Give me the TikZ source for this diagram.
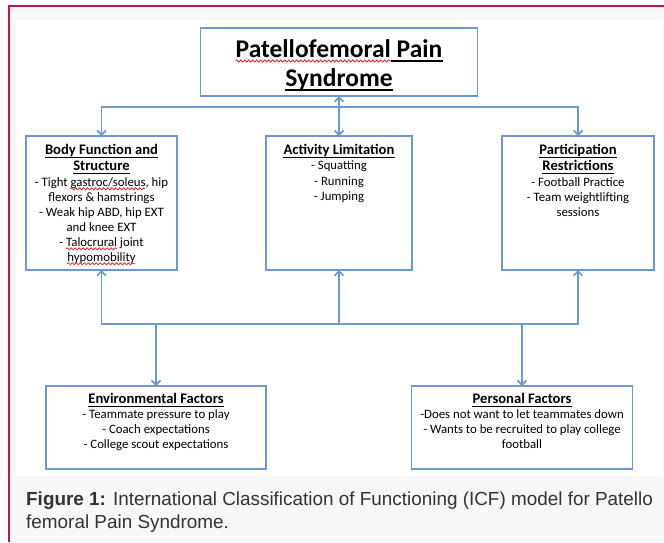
\documentclass[tikz,border=0pt]{standalone}
\usepackage{fontspec}
\setmainfont{Carlito}
\newfontfamily\capfont{Liberation Sans}
\usetikzlibrary{arrows.meta,decorations.pathmorphing}
\definecolor{bxblue}{HTML}{6A98D2}
\definecolor{framered}{HTML}{B8193F}
\definecolor{bgg}{HTML}{F8F7F8}
\definecolor{capt}{HTML}{333333}
\definecolor{wavered}{HTML}{E02828}
\newlength\offA \newlength\lenA
\newlength\offB \newlength\lenB
\newlength\lenC \newlength\lenD
\begin{document}
\settowidth\lenA{\fontsize{25.5}{30}\selectfont\bfseries Patellofemoral}%
\settowidth\offB{\fontsize{12.8}{15}\selectfont - Tight }%
\settowidth\lenB{\fontsize{12.8}{15}\selectfont gastroc/soleus}%
\settowidth\offA{\fontsize{12.8}{15}\selectfont - }%
\settowidth\lenC{\fontsize{12.8}{15}\selectfont Talocrural}%
\settowidth\lenD{\fontsize{12.8}{15}\selectfont hypomobility}%
\begin{tikzpicture}[x=1pt,y=-1pt,
  box/.style={draw=bxblue,line width=1.6pt,fill=white,inner sep=0pt,outer sep=0pt},
  hd/.style={inner sep=0pt,anchor=base,font={\fontsize{14.6}{16}\selectfont\bfseries}},
  itm/.style={inner sep=0pt,anchor=base,font={\fontsize{12.8}{15}\selectfont}},
  ttl/.style={inner sep=0pt,anchor=base,font={\fontsize{25.5}{30}\selectfont\bfseries}},
  captxt/.style={inner sep=0pt,anchor=base west,text=capt,font={\capfont\fontsize{18.9}{23}\selectfont}},
  ln/.style={draw=bxblue,line width=1.9pt},
  tip/.tip={Straight Barb[length=4.5pt,width=9pt,line width=1.7pt]},
  arr/.style={ln,-tip},
  ulh/.style={draw=black,line width=0.9pt},
  ult/.style={draw=black,line width=1.4pt},
  wave/.style={draw=wavered,line width=0.8pt,decorate,decoration={snake,segment length=4pt,amplitude=1pt}},
]
\useasboundingbox (0,0) rectangle (664,542);
\fill[bgg] (9,6) rectangle (664,542);
\fill[white] (15,20) rectangle (663,476);
\draw[framered,line width=1.5pt] (9,542) -- (9,6) -- (664,6);

% boxes
\node[box,minimum width=277pt,minimum height=68pt] (top) at (339,62) {};
\node[box,minimum width=151pt,minimum height=134pt] (bfs) at (101.5,203) {};
\node[box,minimum width=146pt,minimum height=134pt] (al) at (339,203) {};
\node[box,minimum width=152pt,minimum height=134pt] (pr) at (578,203) {};
\node[box,minimum width=220pt,minimum height=83pt] (env) at (156,427.5) {};
\node[box,minimum width=221pt,minimum height=83pt] (pf) at (522,427.5) {};

% connector hubs
\coordinate (hl) at (101.5,107);
\coordinate (hr) at (578,107);
\coordinate (bl) at (101.5,324);
\coordinate (br) at (578,324);
\coordinate (bm) at (339,324);
\coordinate (be) at (156,324);
\coordinate (bp) at (522,324);

\draw[arr] (hr) -- (hl) -- (bfs.north);
\draw[arr] (hl) -- (hr) -- (pr.north);
\draw[ln,tip-tip] (top.south) -- (al.north);
\draw[arr] (br) -- (bl) -- (bfs.south);
\draw[arr] (bl) -- (br) -- (pr.south);
\draw[arr] (bm) -- (al.south);
\draw[arr] (be) -- (env.north);
\draw[arr] (bp) -- (pf.north);

% title
\node[ttl] (t1) at (339,57) {Patellofemoral Pain};
\node[ttl] (t2) at (339,86) {Syndrome};

% body function and structure
\node[hd] (b1) at (101.5,154.5) {Body Function and};
\node[hd] (b2) at (101.5,170.5) {Structure};
\node[itm] (b3) at (101.5,186) {- Tight gastroc/soleus, hip};
\node[itm] (b4) at (101.5,201) {flexors \& hamstrings};
\node[itm] (b5) at (101.5,216) {- Weak hip ABD, hip EXT};
\node[itm] (b6) at (101.5,231) {and knee EXT};
\node[itm] (b7) at (101.5,246) {- Talocrural joint};
\node[itm] (b8) at (101.5,261) {hypomobility};

% activity limitation
\node[hd] (a1) at (339,154.5) {Activity Limitation};
\node[itm] (a2) at (339,169) {- Squatting};
\node[itm] (a3) at (339,185) {- Running};
\node[itm] (a4) at (339,200) {- Jumping};

% participation restrictions
\node[hd] (p1) at (578,154.5) {Participation};
\node[hd] (p2) at (578,170.5) {Restrictions};
\node[itm] (p3) at (578,186) {- Football Practice};
\node[itm] (p4) at (578,201) {- Team weightlifting};
\node[itm] (p5) at (578,216) {sessions};

% environmental factors
\node[hd] (e1) at (156,403.5) {Environmental Factors};
\node[itm] (e2) at (156,418) {- Teammate pressure to play};
\node[itm] (e3) at (156,433) {- Coach expectations};
\node[itm] (e4) at (156,448) {- College scout expectations};

% personal factors
\node[hd] (f1) at (522,403.5) {Personal Factors};
\node[itm] (f2) at (522,418) {-Does not want to let teammates down};
\node[itm] (f3) at (522,433) {- Wants to be recruited to play college};
\node[itm] (f4) at (522,448) {football};

% underlines
\foreach \n in {b1,b2,a1,p1,p2,e1,f1}
  \draw[ulh] ([yshift=-2.6pt]\n.base west) -- ([yshift=-2.6pt]\n.base east);
\foreach \n in {t1,t2}
  \draw[ult] ([yshift=-4pt]\n.base west) -- ([yshift=-4pt]\n.base east);

% spell-check squiggles
\fill[white] ([yshift=-2.8pt]t1.base west) rectangle ([yshift=-5.2pt,xshift=\lenA]t1.base west);
\draw[wave] ([yshift=-4pt]t1.base west) -- ([yshift=-4pt,xshift=\lenA]t1.base west);
\draw[wave] ([xshift=\offB,yshift=-2.8pt]b3.base west) -- ([xshift=\offB+\lenB,yshift=-2.8pt]b3.base west);
\draw[wave] ([xshift=\offA,yshift=-2.8pt]b7.base west) -- ([xshift=\offA+\lenC,yshift=-2.8pt]b7.base west);
\draw[wave] ([yshift=-2.8pt]b8.base west) -- ([xshift=\lenD,yshift=-2.8pt]b8.base west);

% caption
\node[captxt] (c1) at (26,505) {\textbf{Figure 1:} International Classification of Functioning (ICF) model for Patello};
\node[captxt] (c2) at (26,528) {femoral Pain Syndrome.};
\end{tikzpicture}
\end{document}
